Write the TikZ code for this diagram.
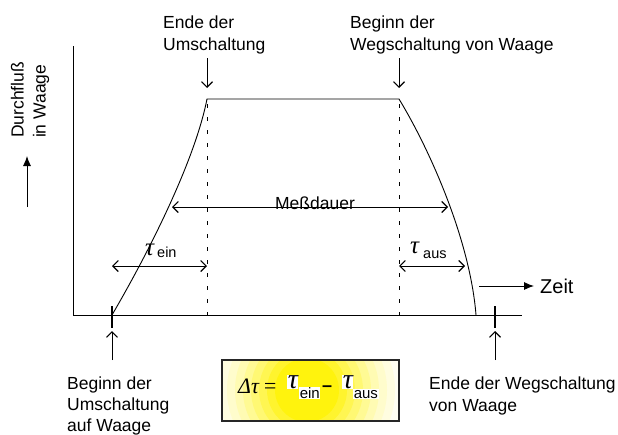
\documentclass[tikz,border=0pt]{standalone}
\usepackage{fontspec}
\setmainfont{Liberation Sans}
\newfontfamily\tsr{Liberation Serif}
\usetikzlibrary{arrows.meta}
\begin{document}
\begin{tikzpicture}[x=1pt,y=-1pt,
  lbl/.style={font=\fontsize{17.5}{22}\selectfont, inner sep=0pt, align=left},
  ln/.style={line width=0.9pt},
  barb/.style={line width=0.9pt,-{Straight Barb[length=5.5pt,width=11pt,line width=1.1pt]}},
  dbarb/.style={line width=0.9pt,{Straight Barb[length=5.5pt,width=11pt,line width=1.1pt]}-{Straight Barb[length=5.5pt,width=11pt,line width=1.1pt]}},
  filledarr/.style={line width=0.9pt,-{Latex[length=10pt,width=8pt]}},
  tick/.style={line width=2.6pt},
  dsh/.style={line width=0.9pt,dash pattern=on 4pt off 9pt},
  taut/.style={font=\tsr\itshape\fontsize{25}{25}\selectfont, inner sep=0pt, anchor=base west},
  subt/.style={font=\fontsize{14.5}{14.5}\selectfont, inner sep=0pt, anchor=base west},
  eqtau/.style={font=\tsr\itshape\fontsize{28}{28}\selectfont, inner sep=0.6pt, anchor=base west, fill=white},
  eqsub/.style={font=\fontsize{15}{15}\selectfont, inner sep=0.6pt, anchor=base west, fill=white}]
\useasboundingbox (0,0) rectangle (618,434);
% axes
\coordinate (ytop) at (73,46);
\coordinate (O) at (73,315);
\coordinate (xend) at (522,315);
\draw[ln] (ytop) -- (O) -- (xend);
% curve
\coordinate (s) at (112,315);
\coordinate (p1) at (207,99);
\coordinate (p2) at (399,99);
\coordinate (e) at (476,315);
\draw[ln] (s) .. controls (150,250) and (195,160) .. (p1) -- (p2) .. controls (430,150) and (470,240) .. (e);
% dashed
\coordinate (d1t) at (207,104);
\coordinate (d1b) at (207,315);
\coordinate (d2t) at (399,104);
\coordinate (d2b) at (399,315);
\draw[dsh] (d1t) -- (d1b);
\draw[dsh] (d2t) -- (d2b);
% Messdauer
\coordinate (m1) at (172,207);
\coordinate (m2) at (448,207);
\draw[dbarb] (m1) -- (m2);
\node[lbl, anchor=base] (mess) at (315,209) {Meßdauer};
% tau arrows
\coordinate (te1) at (112,266);
\coordinate (te2) at (207,266);
\draw[dbarb] (te1) -- (te2);
\coordinate (ta1) at (399,266);
\coordinate (ta2) at (465,266);
\draw[dbarb] (ta1) -- (ta2);
\node[taut] (tein) at (145,255) {τ};
\node[subt] (seint) at (157,257) {ein};
\node[taut] (taus) at (410,253) {τ};
\node[subt] (saus) at (423,258) {aus};
% ticks
\coordinate (k1t) at (112,306);
\coordinate (k1b) at (112,328);
\coordinate (k2t) at (495,306);
\coordinate (k2b) at (495,328);
\draw[tick] (k1t) -- (k1b);
\draw[tick] (k2t) -- (k2b);
\coordinate (u1s) at (112,360);
\coordinate (u1e) at (112,331);
\coordinate (u2s) at (495,360);
\coordinate (u2e) at (495,331);
\draw[barb] (u1s) -- (u1e);
\draw[barb] (u2s) -- (u2e);
% top arrows
\coordinate (a1s) at (207,58);
\coordinate (a1e) at (207,88);
\coordinate (a2s) at (399,58);
\coordinate (a2e) at (399,88);
\draw[barb] (a1s) -- (a1e);
\draw[barb] (a2s) -- (a2e);
% Zeit
\coordinate (zs) at (479,286);
\coordinate (ze) at (534,286);
\draw[filledarr] (zs) -- (ze);
\node[inner sep=0pt, anchor=base west, font=\fontsize{20}{20}\selectfont] (zeit) at (540,293) {Zeit};
% y label
\coordinate (ys) at (27,207);
\coordinate (ye) at (27,156);
\draw[filledarr] (ys) -- (ye);
\node[lbl, rotate=90, anchor=center] (ylab) at (30,100) {Durchfluß\\in Waage};
% text labels
\node[lbl, anchor=north west] (t1) at (163,15.4) {Ende der\\Umschaltung};
\node[lbl, anchor=north west] (t2) at (350,15.4) {Beginn der\\Wegschaltung von Waage};
\node[lbl, anchor=north west, font=\fontsize{17.5}{21}\selectfont] (b1) at (67,376.4) {Beginn der\\Umschaltung\\auf Waage};
\node[lbl, anchor=north west] (b2) at (429,376.4) {Ende der Wegschaltung\\von Waage};
% equation box
\coordinate (bx1) at (222,360);
\coordinate (bx2) at (399,421);
\coordinate (gc) at (307,390);
\begin{scope}
\clip (bx1) rectangle (bx2);
\fill[white] (bx1) rectangle (bx2);
\foreach \r/\p in {96/5,88/12,80/20,72/30,64/42,56/55,48/68,40/82,32/95}{
  \fill[yellow!\p!white] (gc) circle (\r pt);
}
\end{scope}
\draw[line width=1.2pt, black!85] (bx1) rectangle (bx2);
\node[font=\tsr\itshape\fontsize{22}{22}\selectfont, inner sep=0pt, anchor=base west] (dt) at (238,393) {Δτ\,=};
\node[eqtau] (q1) at (287,388) {τ};
\node[eqsub] (q1s) at (299,398) {ein};
\node[font=\bfseries\fontsize{18}{18}\selectfont, inner sep=0pt, anchor=base west] (mn) at (322,391) {–};
\node[eqtau] (q2) at (342,388) {τ};
\node[eqsub] (q2s) at (353,398) {aus};
\end{tikzpicture}
\end{document}
